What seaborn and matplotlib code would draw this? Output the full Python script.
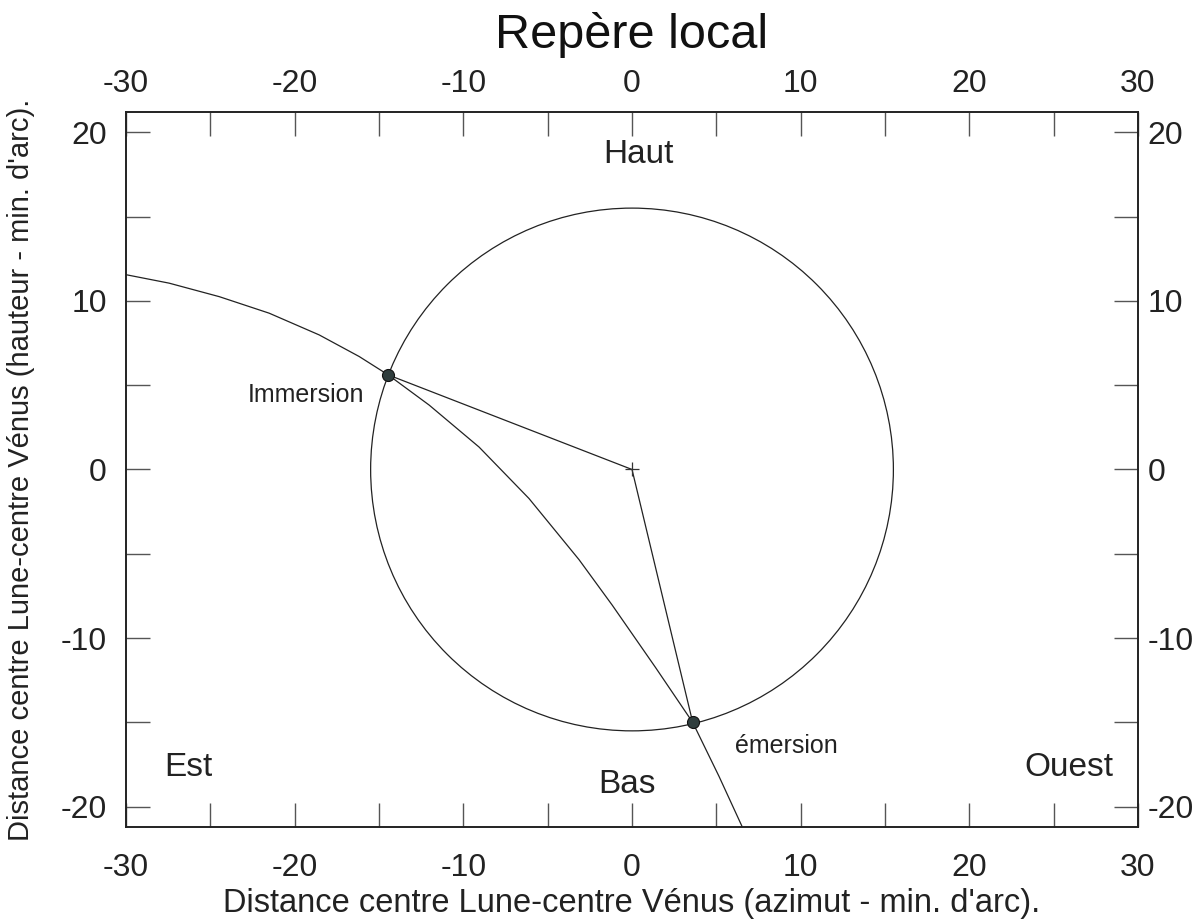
import numpy as np
import pandas as pd
import matplotlib
matplotlib.use("Agg")
import matplotlib.pyplot as plt
from matplotlib.patches import Circle
from matplotlib.ticker import MultipleLocator
import seaborn as sns

# Trajectoire de Vénus relative au centre de la Lune (min. d'arc)
traj_x = [-30.0, -27.45, -24.48, -21.52, -18.55, -16.18, -14.46, -12.03, -9.07,
          -6.11, -3.14, -1.17, 1.40, 3.6, 5.16, 6.54]
traj_y = [11.55, 11.05, 10.25, 9.27, 7.98, 6.70, 5.61, 3.82, 1.33,
          -1.72, -5.35, -8.05, -11.75, -15.0, -18.2, -21.2]

# Contacts
contact_names = ["Immersion", "émersion"]
contact_x = [-14.46, 3.6]
contact_y = [5.61, -15.0]

# Lune
moon_radius = 15.5
moon_center = (0.0, 0.0)

x_ticks = [-30, -20, -10, 0, 10, 20, 30]
y_ticks = [-20, -10, 0, 10, 20]

sns.set_style("ticks")
plt.rcParams["font.family"] = ["Liberation Sans", "DejaVu Sans"]

fig = plt.figure(figsize=(12.02, 9.24), dpi=100)
ax = fig.add_axes([0.1048, 0.105, 0.842, 0.7738])

ink = "#222222"
line_kw = dict(color=ink, linewidth=0.9)

# cercle lunaire
ax.add_patch(Circle(moon_center, moon_radius, fill=False, edgecolor=ink, linewidth=0.9))

# trajectoire
traj = pd.DataFrame({"x": traj_x, "y": traj_y})
sns.lineplot(data=traj, x="x", y="y", sort=False, ax=ax, **line_kw)

# rayons vers les contacts
for cx, cy in zip(contact_x, contact_y):
    seg = pd.DataFrame({"x": [moon_center[0], cx], "y": [moon_center[1], cy]})
    sns.lineplot(data=seg, x="x", y="y", sort=False, ax=ax, **line_kw)

# centre
ax.plot([moon_center[0]], [moon_center[1]], marker="+", markersize=10,
        color="#333333", markeredgewidth=0.9, linestyle="none")

# points de contact
pts = pd.DataFrame({"x": contact_x, "y": contact_y})
sns.scatterplot(data=pts, x="x", y="y", s=75, color="#2f3d3d",
                edgecolor="#111111", linewidth=0.8, ax=ax, zorder=5)

# textes
ax.text(-19.34, 4.43, "Immersion", fontsize=18, ha="center", va="center", color=ink)
ax.text(9.15, -16.42, "émersion", fontsize=18, ha="center", va="center", color=ink)
ax.text(0.4, 18.7, "Haut", fontsize=24, ha="center", va="center", color=ink)
ax.text(-0.3, -18.7, "Bas", fontsize=24, ha="center", va="center", color=ink)
ax.text(-26.3, -17.7, "Est", fontsize=24, ha="center", va="center", color=ink)
ax.text(25.9, -17.7, "Ouest", fontsize=24, ha="center", va="center", color=ink)

ax.set_xlim(-30, 30)
ax.set_ylim(-21.2, 21.2)
ax.set_aspect("equal", adjustable="box")

ax.set_xticks(x_ticks)
ax.set_yticks(y_ticks)
ax.set_xticklabels([str(v) for v in x_ticks])
ax.set_yticklabels([str(v) for v in y_ticks])
ax.xaxis.set_minor_locator(MultipleLocator(5))
ax.yaxis.set_minor_locator(MultipleLocator(5))
ax.tick_params(which="both", direction="in", length=17, width=1.0, color="#555555",
               top=True, right=True, labeltop=False, labelright=False,
               labelsize=23, labelcolor=ink)
ax.tick_params(axis="x", which="major", pad=19)
ax.tick_params(axis="y", which="major", pad=14)

# graduations du haut et de droite
top = ax.secondary_xaxis("top")
top.set_xticks(x_ticks)
top.set_xticklabels([str(v) for v in x_ticks])
top.tick_params(length=0, pad=9, labelsize=23, labelcolor=ink)
top.spines["top"].set_visible(False)

right = ax.secondary_yaxis("right")
right.set_yticks(y_ticks)
right.set_yticklabels([str(v) for v in y_ticks])
right.tick_params(length=0, pad=7, labelsize=23, labelcolor=ink)
right.spines["right"].set_visible(False)

for sp in ax.spines.values():
    sp.set_linewidth(1.4)
    sp.set_color(ink)

ax.set_xlabel("Distance centre Lune-centre Vénus (azimut - min. d'arc).", fontsize=23.5,
              color=ink, labelpad=3)
ax.set_ylabel("Distance centre Lune-centre Vénus (hauteur - min. d'arc).", fontsize=21,
              color=ink, labelpad=18)
fig.text(632 / 1202, 1 - 35 / 924, "Repère local", fontsize=35,
         ha="center", va="center", color="#111111")

fig.savefig("out.png", dpi=100, facecolor="white")
